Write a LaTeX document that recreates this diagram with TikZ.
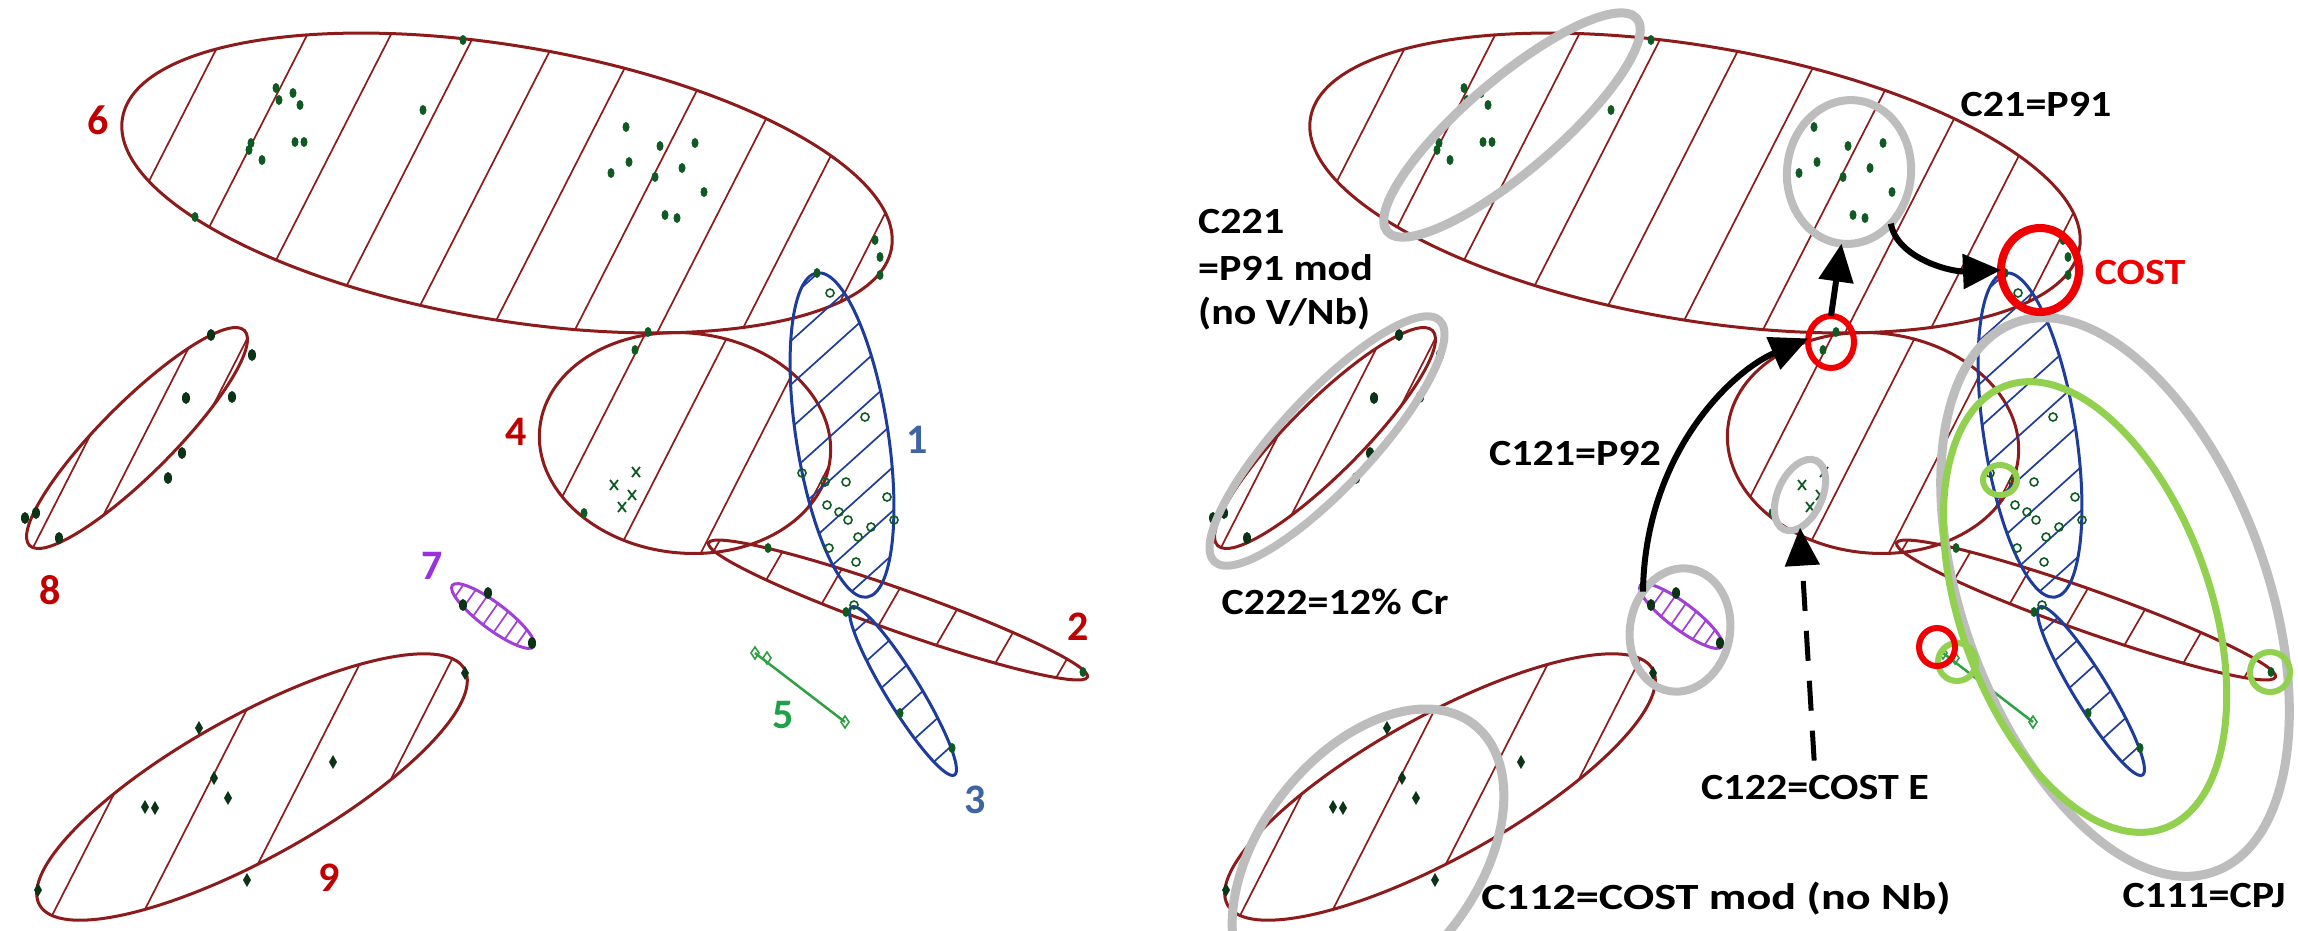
\documentclass[tikz,border=0pt]{standalone}
\usepackage{fontspec}
\usepackage{graphicx}
\newfontfamily\carl{Carlito}
\usetikzlibrary{shapes.geometric,arrows.meta}
\definecolor{dred}{HTML}{8E1B1B}
\definecolor{dblue}{HTML}{1E3C9C}
\definecolor{dpurple}{HTML}{A23FD6}
\definecolor{cfive}{HTML}{2FA043}
\definecolor{mk}{HTML}{0F5A23}
\definecolor{mkd}{HTML}{0B3316}
\definecolor{labred}{HTML}{C00000}
\definecolor{labblue}{HTML}{3E64A4}
\definecolor{labgreen}{HTML}{1FA049}
\definecolor{labpurple}{HTML}{9A30E0}
\definecolor{ovgray}{HTML}{BDBDBD}
\definecolor{ovgreen}{HTML}{92D050}
\definecolor{ovred}{HTML}{F00000}
\newcommand{\sq}[1]{\scalebox{1}[0.88]{#1}}
% hatched ellipse: #1 cx #2 cy #3 a #4 b #5 rot #6 colour #7 hatch angle #8 spacing #9 phase
\newcommand{\hatchell}[9]{%
 \pgfmathsetmacro{\hTc}{(#1)*sin(#7)+(#2)*cos(#7)}%
 \pgfmathsetmacro{\hUc}{(#1)*cos(#7)-(#2)*sin(#7)}%
 \pgfmathtruncatemacro{\hKmin}{floor((\hTc-(#3)-(#9))/(#8))}%
 \pgfmathtruncatemacro{\hKmax}{ceil((\hTc+(#3)-(#9))/(#8))}%
 \begin{scope}
  \clip[shift={(#1,#2)},rotate=#5] (0,0) ellipse [x radius=#3pt, y radius=#4pt];
  \foreach \k in {\hKmin,...,\hKmax}{%
   \pgfmathsetmacro{\hT}{\k*(#8)+(#9)}%
   \draw[hatchln,#6] ({\hT*sin(#7)+(\hUc-(#3))*cos(#7)},{\hT*cos(#7)-(\hUc-(#3))*sin(#7)}) -- ({\hT*sin(#7)+(\hUc+(#3))*cos(#7)},{\hT*cos(#7)-(\hUc+(#3))*sin(#7)});
  }
 \end{scope}
 \draw[outln,#6,shift={(#1,#2)},rotate=#5] (0,0) ellipse [x radius=#3pt, y radius=#4pt];
}
\newcommand{\mdrop}[2]{\fill[mk] (#1,#2) ellipse [x radius=3.5pt, y radius=5pt];}
\newcommand{\mring}[2]{\draw[mk, line width=1.6pt] (#1,#2) circle (4pt);}
\newcommand{\mx}[2]{\draw[mk, line width=1.8pt] (#1-4,#2-5) -- (#1+4,#2+5) (#1-4,#2+5) -- (#1+4,#2-5);}
\newcommand{\mdia}[2]{\fill[mkd] (#1,#2-7) -- (#1+4,#2) -- (#1,#2+7) -- (#1-4,#2) -- cycle;}
\newcommand{\moval}[2]{\fill[mkd] (#1,#2) ellipse [x radius=4pt, y radius=6pt];}
\newcommand{\mgdia}[2]{\draw[cfive, line width=1.6pt] (#1,#2-6) -- (#1+4,#2) -- (#1,#2+6) -- (#1-4,#2) -- cycle;}
\newcommand{\basefig}{%
 \hatchell{507}{183}{390}{137}{-9.6}{dred}{63}{74.5}{66}
 \hatchell{685}{443}{146}{110}{-6}{dred}{63}{74.5}{56}
 \hatchell{898}{610}{201}{21}{-19.5}{dred}{60}{60}{53.5}
 \hatchell{137}{438}{152}{36}{45}{dred}{63}{48}{38}
 \hatchell{252}{787}{243}{71}{29}{dred}{63}{80}{62}
 \hatchell{842}{435}{164}{46}{-81.2}{dblue}{42}{32.4}{5}
 \hatchell{903}{691}{98.5}{17}{-58.5}{dblue}{42}{30}{21}
 \hatchell{493}{616}{51}{13}{-37}{dpurple}{55}{13}{0}
 \draw[cfive, line width=2.5pt] (755,653) -- (845,722);
 \foreach \p/\q in {276/88,279/100,293/93,300/105,251/143,249/150,262/160,295/142,304/142,423/110,463/40,195/217,
   626/127,660/146,695/143,629/162,611/173,655/177,682/168,704/192,665/215,677/218,875/240,880/257,880/275,
   817/273,648/332,635/350,584/513,768/548,1083/672,846/612,900/713,952/748}{\mdrop{\p}{\q}}
 \foreach \p/\q in {830/293,865/417,802/473,825/482,846/482,827/505,839/512,848/520,887/497,894/520,871/527,858/537,829/548,856/562,854/605}{\mring{\p}{\q}}
 \foreach \p/\q in {636/472,614/485,632/495,622/507}{\mx{\p}{\q}}
 \foreach \p/\q in {211/335,252/355,186/398,232/397,182/453,168/478,25/518,36/513,59/538,488/593,463/605,532/643}{\moval{\p}{\q}}
 \foreach \p/\q in {465/673,199/728,214/778,228/798,145/807,155/808,333/762,247/880,38/890}{\mdia{\p}{\q}}
 \foreach \p/\q in {755/653,767/658,845/722}{\mgdia{\p}{\q}}
}
\begin{document}
\begin{tikzpicture}[x=1pt,y=-1pt,
  outln/.style={line width=3pt},
  hatchln/.style={line width=1.7pt},
  ovl/.style={ellipse, draw, inner sep=0pt, outer sep=0pt},
  dlab/.style={font=\carl\bfseries\fontsize{42}{46}\selectfont, inner sep=0pt},
  blab/.style={font=\carl\bfseries\fontsize{42}{46}\selectfont, inner sep=0pt, text=black},
  arr/.style={line width=6pt, -{Triangle[length=38pt,width=34pt]}},
  darr/.style={line width=5pt, dash pattern=on 30pt off 20pt, -{Triangle[length=38pt,width=34pt]}}]
\useasboundingbox (0,0) rectangle (2298,930);
\fill[white] (0,0) rectangle (2298,930);
\clip (0,0) rectangle (2298,930);
% left panel
\begin{scope}
\basefig
\end{scope}
\node[dlab, text=labred] (n6) at (98,120) {6};
\node[dlab, text=labred] (n8) at (50,590) {8};
\node[dlab, text=labred] (n4) at (516,432) {4};
\node[dlab, text=labblue] (n1) at (917,440) {1};
\node[dlab, text=labred] (n2) at (1078,627) {2};
\node[dlab, text=labblue] (n3) at (975,800) {3};
\node[dlab, text=labgreen] (n5) at (783,715) {5};
\node[dlab, text=labpurple] (n7) at (432,566) {7};
\node[dlab, text=labred] (n9) at (329,878) {9};
% right panel
\begin{scope}[xshift=1188pt]
\basefig
\end{scope}
\node[ovl, draw=ovgray, line width=9pt, minimum width=328pt, minimum height=92pt, rotate=40.5] (gA) at (1512,125) {};
\node[ovl, draw=ovgray, line width=8pt, minimum width=124pt, minimum height=144pt, rotate=-6] (gB) at (1849,172) {};
\node[ovl, draw=ovgray, line width=8pt, minimum width=330pt, minimum height=92pt, rotate=47] (gG) at (1327,441) {};
\node[ovl, draw=ovgray, line width=7pt, minimum width=76pt, minimum height=44pt, rotate=65] (gD) at (1800,495) {};
\node[ovl, draw=ovgray, line width=8pt, minimum width=124pt, minimum height=100pt, rotate=80] (gF) at (1680,630) {};
\node[ovl, draw=ovgray, line width=9pt, minimum width=344pt, minimum height=216pt, rotate=52] (gE) at (1368,860) {};
\node[ovl, draw=ovgray, line width=9pt, minimum width=584pt, minimum height=304pt, rotate=-70] (gC) at (2115,597) {};
\node[ovl, draw=ovgreen, line width=7pt, minimum width=470pt, minimum height=250pt, rotate=-70.4] (gnL) at (2085,607) {};
\node[ovl, draw=ovgreen, line width=6pt, minimum width=34pt, minimum height=30pt] (gn1) at (2000,480) {};
\node[ovl, draw=ovgreen, line width=6pt, minimum width=38pt, minimum height=38pt] (gn2) at (1957,662) {};
\node[ovl, draw=ovgreen, line width=6pt, minimum width=40pt, minimum height=40pt] (gn3) at (2270,672) {};
\node[ovl, draw=ovred, line width=6pt, minimum width=36pt, minimum height=38pt] (rR) at (1937,647) {};
\node[ovl, draw=ovred, line width=8pt, minimum width=78pt, minimum height=84pt] (rC) at (2040,270) {};
\node[ovl, draw=ovred, line width=6pt, minimum width=46pt, minimum height=52pt] (rS) at (1831,342) {};
% labels
\node[blab] (c21) at (2036,105) {\sq{C21=P91}};
\node[blab, anchor=west] (c221a) at (1198,222) {\sq{C221}};
\node[blab, anchor=west] (c221b) at (1198,268) {\sq{=P91 mod}};
\node[blab, anchor=west] (c221c) at (1198,314) {\sq{(no V/Nb)}};
\node[blab] (c121) at (1575,453) {\sq{C121=P92}};
\node[blab] (c222) at (1335,602) {\sq{C222=12\% Cr}};
\node[blab] (c122) at (1815,787) {\sq{C122=COST E}};
\node[blab] (c112) at (1716,899) {\scalebox{1.1}[0.88]{C112=COST mod (no Nb)}};
\node[blab] (c111) at (2204,895) {\sq{C111=CPJ}};
\node[blab, text=ovred] (cost) at (2140,272) {\sq{COST}};
% arrows
\draw[arr] (gF.54) .. controls (1645,455) and (1730,372) .. (rS.171);
\draw[arr] (rS.north) -- (gB.south);
\draw[arr] (gB.-45) .. controls (1897,258) and (1950,272) .. (rC.west);
\draw[darr, shorten <=14pt] (c122.north) -- (gD.-155);
\end{tikzpicture}
\end{document}
